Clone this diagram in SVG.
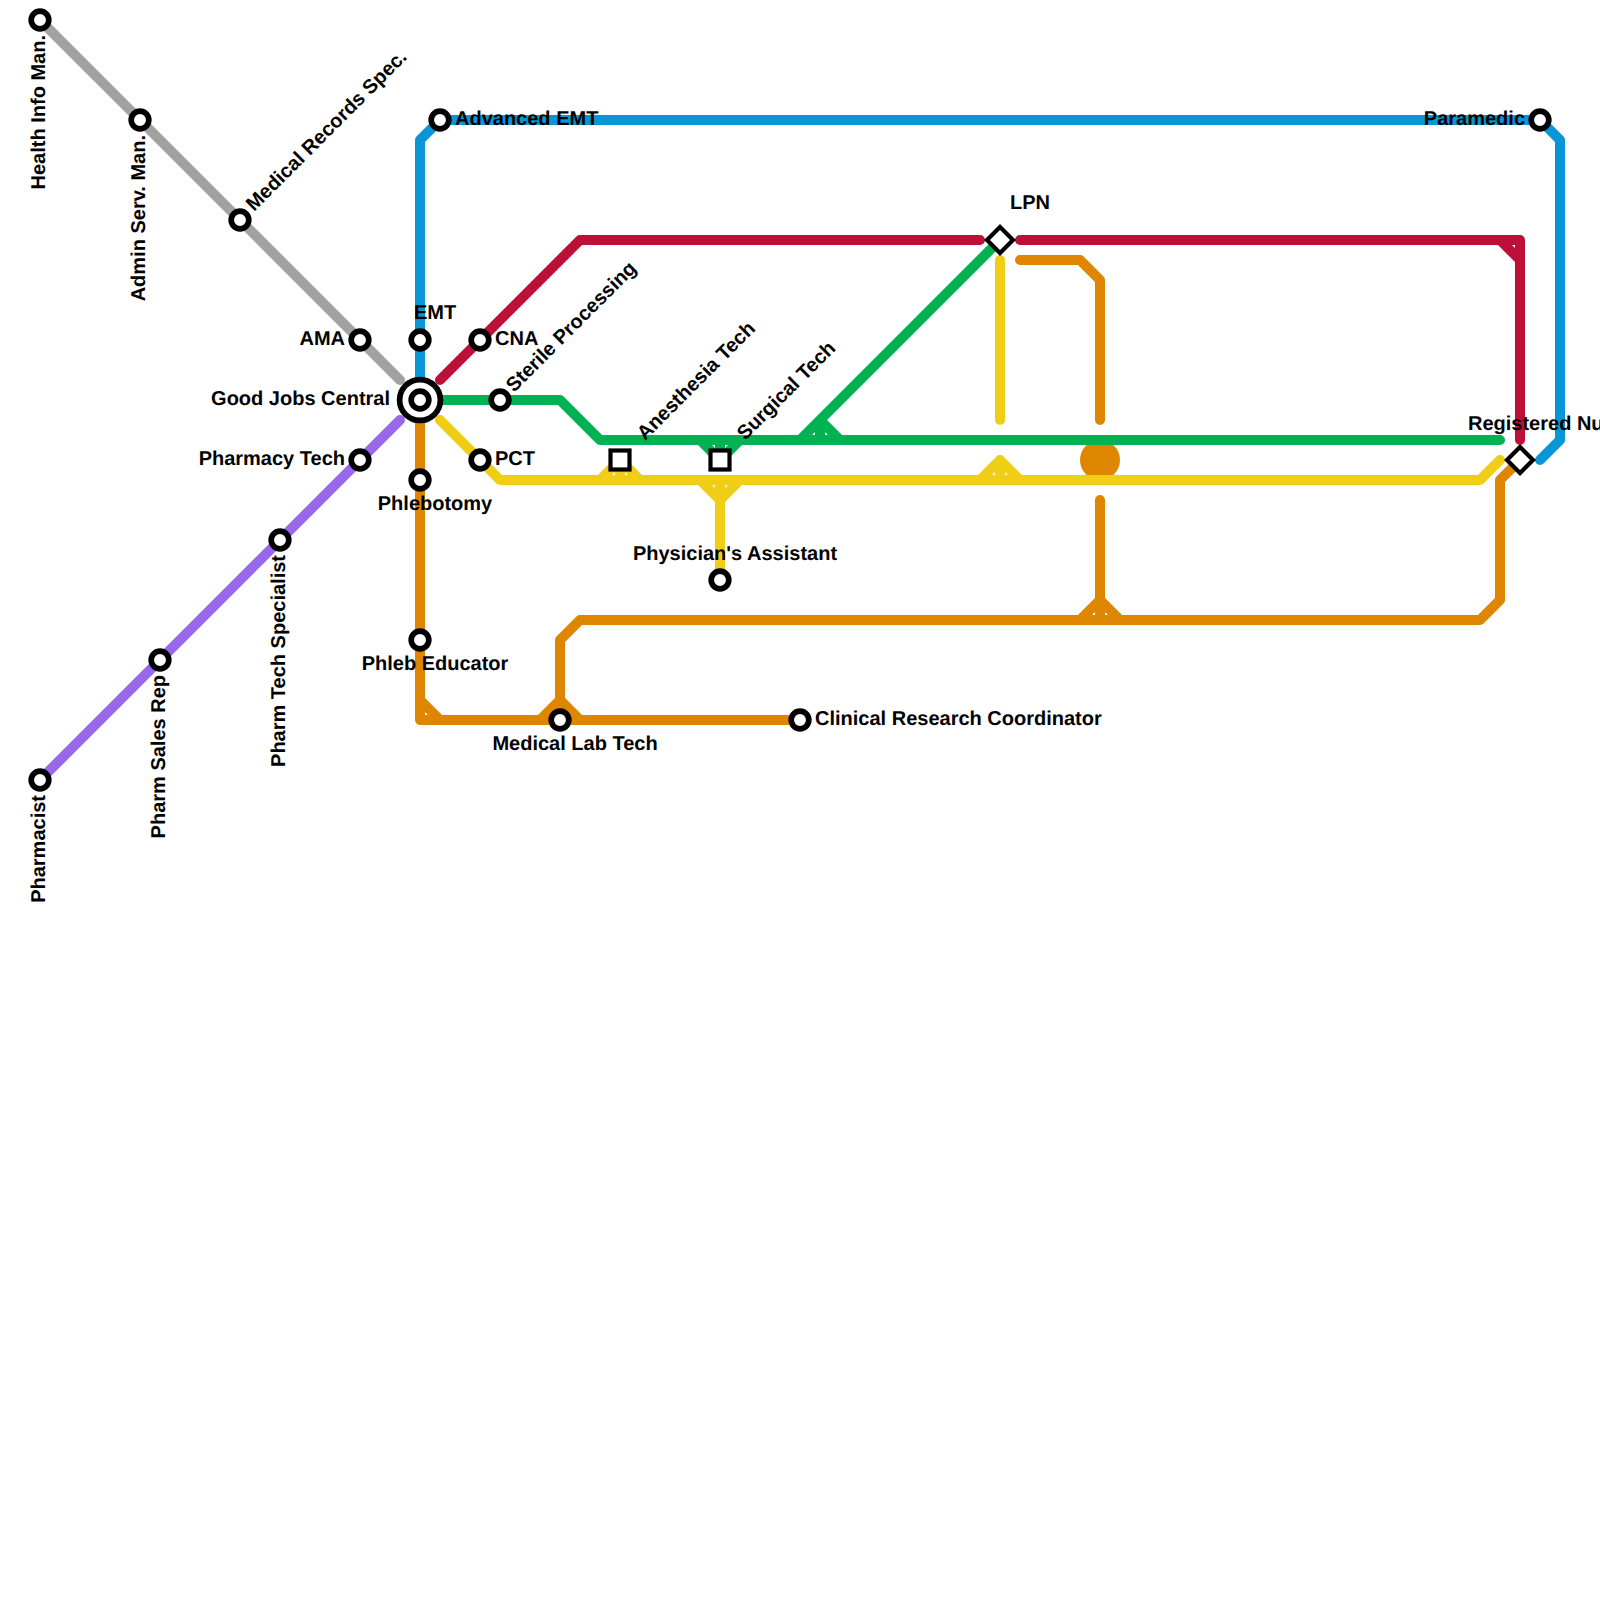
<svg xmlns="http://www.w3.org/2000/svg" width="1600" height="1600" viewBox="0 0 1600 1600">
<style>
.l{fill:none;stroke-width:10;stroke-linecap:round;stroke-linejoin:round}
.s{fill:#fff;stroke:#000;stroke-width:5.7}
.b{fill:#fff;stroke:#000;stroke-width:4.2}
text{font-family:"Liberation Sans",Arial,sans-serif;font-weight:700;font-size:20px;fill:#000;text-rendering:geometricPrecision}
.e{text-anchor:end}
.m{text-anchor:middle}
</style>
<rect width="1600" height="1600" fill="#fff"/>
<g id="connectors">
<circle cx="1100" cy="460" r="20" fill="#df8600"/>
<path class="l" stroke="#a2a2a2" d="M40 20L400 380"/>
<path class="l" stroke="#9768ea" d="M40 780L400 420"/>
<path class="l" stroke="#0896d7" d="M420 380V140L440 120H1540L1560 140V440L1540 460"/>
<path class="l" stroke="#bd1038" d="M440 380L580 240H980M1020 240H1520V440M1500 240L1520 260"/>
<path class="l" stroke="#df8600" d="M420 420V720H800M420 700L440 720M540 720L560 700L580 720M560 720V640L580 620H1480L1500 600V480L1518 462M1080 620L1100 600L1120 620M1100 620V500M1020 260H1080L1100 280V420"/>
<path class="l" stroke="#00b251" d="M440 400H560L600 440H1500M700 440L720 460L740 440M720 460V440M800 440L1000 240M820 420L840 440M820 420V440"/>
<path class="l" stroke="#f0ce15" d="M440 420L500 480H1480L1500 460M600 480L620 460L640 480M620 460V480M700 480L720 500L740 480M720 480V570M980 480L1000 460L1020 480M1000 460V480M1000 260V420"/>
</g>
<g id="health-info"><circle class="s" cx="40" cy="20" r="8.8"/><text transform="translate(45 35) rotate(-90)" class="e">Health Info Man.</text></g>
<g id="admin-serv"><circle class="s" cx="140" cy="120" r="8.8"/><text transform="translate(145 135) rotate(-90)" class="e">Admin Serv. Man.</text></g>
<g id="records"><circle class="s" cx="240" cy="220" r="8.8"/><text transform="translate(254 212) rotate(-45)">Medical Records Spec.</text></g>
<g id="ama"><circle class="s" cx="360" cy="340" r="8.8"/><text x="345" y="345" class="e">AMA</text></g>
<g id="emt"><circle class="s" cx="420" cy="340" r="8.8"/><text x="414" y="319">EMT</text></g>
<g id="cna"><circle class="s" cx="480" cy="340" r="8.8"/><text x="495" y="345">CNA</text></g>
<g id="hub"><circle class="s" cx="420" cy="400" r="20.4"/><circle class="s" cx="420" cy="400" r="8.8"/><text x="390" y="405" class="e">Good Jobs Central</text></g>
<g id="sterile"><circle class="s" cx="500" cy="400" r="8.8"/><text transform="translate(514 393) rotate(-45)">Sterile Processing</text></g>
<g id="pct"><circle class="s" cx="480" cy="460" r="8.8"/><text x="495" y="465">PCT</text></g>
<g id="pharmacy-tech"><circle class="s" cx="360" cy="460" r="8.8"/><text x="345" y="465" class="e">Pharmacy Tech</text></g>
<g id="phlebotomy"><circle class="s" cx="420" cy="480" r="8.8"/><text x="435" y="510" class="m">Phlebotomy</text></g>
<g id="pharm-tech-spec"><circle class="s" cx="280" cy="540" r="8.8"/><text transform="translate(285 555) rotate(-90)" class="e">Pharm Tech Specialist</text></g>
<g id="pharm-sales"><circle class="s" cx="160" cy="660" r="8.8"/><text transform="translate(165 675) rotate(-90)" class="e">Pharm Sales Rep</text></g>
<g id="pharmacist"><circle class="s" cx="40" cy="780" r="8.8"/><text transform="translate(45 795) rotate(-90)" class="e">Pharmacist</text></g>
<g id="phleb-educator"><circle class="s" cx="420" cy="640" r="8.8"/><text x="435" y="670" class="m">Phleb Educator</text></g>
<g id="med-lab"><circle class="s" cx="560" cy="720" r="8.8"/><text x="575" y="750" class="m">Medical Lab Tech</text></g>
<g id="clinical"><circle class="s" cx="800" cy="720" r="8.8"/><text x="815" y="725">Clinical Research Coordinator</text></g>
<g id="anesthesia"><rect class="b" x="610.5" y="450.5" width="19" height="19"/><text transform="translate(645 441) rotate(-45)">Anesthesia Tech</text></g>
<g id="surgical"><rect class="b" x="710.5" y="450.5" width="19" height="19"/><text transform="translate(745 441) rotate(-45)">Surgical Tech</text></g>
<g id="pa"><circle class="s" cx="720" cy="580" r="8.8"/><text x="735" y="560" class="m">Physician's Assistant</text></g>
<g id="lpn"><path class="b" d="M1000 227L1013 240L1000 253L987 240Z"/><text x="1030" y="209" class="m">LPN</text></g>
<g id="rn"><path class="b" d="M1520 447L1533 460L1520 473L1507 460Z"/><text x="1468" y="430">Registered Nurse</text></g>
<g id="advanced-emt"><circle class="s" cx="440" cy="120" r="8.8"/><text x="455" y="125">Advanced EMT</text></g>
<g id="paramedic"><circle class="s" cx="1540" cy="120" r="8.8"/><text x="1525" y="125" class="e">Paramedic</text></g>
</svg>
